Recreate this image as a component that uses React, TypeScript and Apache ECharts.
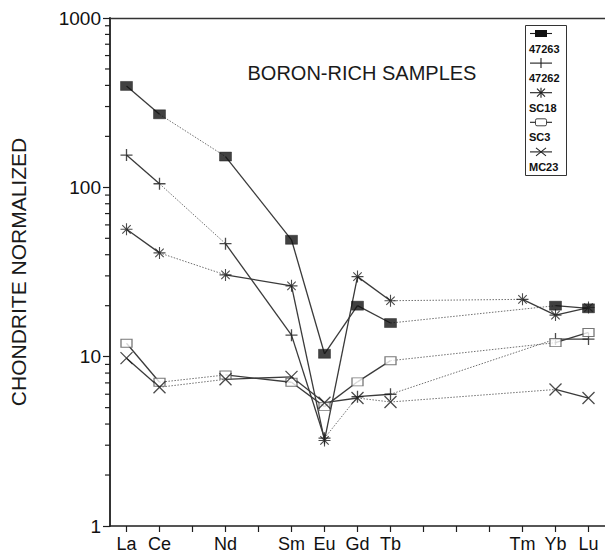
import { useEffect, useRef } from "react";
import * as echarts from "echarts";

const FONT = "'Liberation Sans', Arial, Helvetica, sans-serif";

// x axis: rare-earth elements in atomic-number order (57..71)
const elements = ["La", "Ce", "Pr", "Nd", "Pm", "Sm", "Eu", "Gd", "Tb", "Dy", "Ho", "Er", "Tm", "Yb", "Lu"];
const labeledElements = ["La", "Ce", "Nd", "Sm", "Eu", "Gd", "Tb", "Tm", "Yb", "Lu"];

// y axis
const yMin = 1;
const yMax = 1000;
const minorTickValues = [2, 3, 4, 5, 6, 7, 8, 9, 20, 30, 40, 50, 60, 70, 80, 90, 200, 300, 400, 500, 600, 700, 800, 900];

// samples
const sampleNames = ["47263", "47262", "SC18", "SC3", "MC23"];

const s47263Elements = ["La", "Ce", "Nd", "Sm", "Eu", "Gd", "Tb", "Yb", "Lu"];
const s47263Values = [397, 270, 152, 49, 10.4, 20, 15.8, 20, 19.3];

const s47262Elements = ["La", "Ce", "Nd", "Sm", "Eu", "Gd", "Tb", "Yb", "Lu"];
const s47262Values = [155, 105, 46.5, 13.4, 3.3, 5.8, 6.0, 12.7, 12.7];

const sSC18Elements = ["La", "Ce", "Nd", "Sm", "Eu", "Gd", "Tb", "Tm", "Yb", "Lu"];
const sSC18Values = [56.5, 41, 30.4, 26.2, 3.2, 29.7, 21.4, 21.8, 17.6, 19.5];

const sSC3Elements = ["La", "Ce", "Nd", "Sm", "Eu", "Gd", "Tb", "Yb", "Lu"];
const sSC3Values = [12.0, 7.06, 7.8, 7.06, 5.07, 7.1, 9.47, 12.1, 13.9];

const sMC23Elements = ["La", "Ce", "Nd", "Sm", "Eu", "Gd", "Tb", "Yb", "Lu"];
const sMC23Values = [9.8, 6.6, 7.35, 7.6, 5.35, 5.7, 5.4, 6.4, 5.7];

// segments drawn dotted (from-to)
const dottedCommon = ["Ce-Nd", "Tb-Yb", "Tb-Tm"];
const dotted47262 = ["Eu-Gd"];
const dottedMC23 = ["Gd-Tb"];

const samples = [
  { name: sampleNames[0], els: s47263Elements, vals: s47263Values, dotted: dottedCommon, kind: "fsquare" },
  { name: sampleNames[1], els: s47262Elements, vals: s47262Values, dotted: dottedCommon.concat(dotted47262), kind: "plus" },
  { name: sampleNames[2], els: sSC18Elements, vals: sSC18Values, dotted: dottedCommon, kind: "star" },
  { name: sampleNames[3], els: sSC3Elements, vals: sSC3Values, dotted: dottedCommon, kind: "osquare" },
  { name: sampleNames[4], els: sMC23Elements, vals: sMC23Values, dotted: dottedCommon.concat(dottedMC23), kind: "cross" },
];

const INK = "#1e1e1e";
const LINE = "#3a3a3a";
const DOT = "#707070";

const symbolFor: Record<string, any> = {
  fsquare: { symbol: "rect", symbolSize: [12, 9], itemStyle: { color: "#111", borderColor: "#111", borderWidth: 0.5 } },
  plus: { symbol: "path://M0,5L10,5M5,0L5,10", symbolSize: 12, itemStyle: { color: "transparent", borderColor: INK, borderWidth: 1.3 } },
  star: { symbol: "path://M0,5L10,5M5,0L5,10M1.5,1.5L8.5,8.5M8.5,1.5L1.5,8.5", symbolSize: 12, itemStyle: { color: "transparent", borderColor: INK, borderWidth: 1.1 } },
  osquare: { symbol: "rect", symbolSize: [11, 8], itemStyle: { color: "#fff", borderColor: "#555", borderWidth: 1.1 } },
  cross: { symbol: "path://M0,0L10,10M10,0L0,10", symbolSize: 12, itemStyle: { color: "transparent", borderColor: INK, borderWidth: 1.3 } },
};

function legendSymbol(kind: string, cx: number, cy: number): any[] {
  const st = { stroke: INK, lineWidth: 1.1, fill: "none" };
  const L = (x1: number, y1: number, x2: number, y2: number) => ({ type: "line", shape: { x1, y1, x2, y2 }, style: st });
  const out: any[] = [L(cx - 11, cy, cx + 11, cy)];
  if (kind === "fsquare") out.push({ type: "rect", shape: { x: cx - 6, y: cy - 3.5, width: 12, height: 7 }, style: { fill: "#111" } });
  if (kind === "plus") out.push(L(cx, cy - 5, cx, cy + 5));
  if (kind === "star") {
    out.push(L(cx, cy - 5, cx, cy + 5), L(cx - 4, cy - 4, cx + 4, cy + 4), L(cx + 4, cy - 4, cx - 4, cy + 4));
  }
  if (kind === "osquare") out.push({ type: "rect", shape: { x: cx - 5.5, y: cy - 3.5, width: 11, height: 7, r: 1.5 }, style: { fill: "#fff", stroke: "#444", lineWidth: 1 } });
  if (kind === "cross") out.push(L(cx - 5, cy - 4, cx + 5, cy + 4), L(cx + 5, cy - 4, cx - 5, cy + 4));
  return out;
}

export default function App() {
  const ref = useRef<HTMLDivElement>(null);
  useEffect(() => {
    if (!ref.current) return;
    const chart = echarts.init(ref.current, undefined, { renderer: "svg" });

    const series: any[] = [];
    samples.forEach((s) => {
      for (let i = 0; i < s.els.length - 1; i++) {
        const key = s.els[i] + "-" + s.els[i + 1];
        const isDot = s.dotted.includes(key);
        series.push({
          type: "line",
          silent: true,
          showSymbol: false,
          z: isDot ? 2 : 3,
          data: [
            [s.els[i], s.vals[i]],
            [s.els[i + 1], s.vals[i + 1]],
          ],
          lineStyle: isDot
            ? { color: DOT, width: 1, type: [1.5, 1.5] }
            : { color: LINE, width: 1.3, type: "solid" },
        });
      }
      series.push({
        type: "scatter",
        name: s.name,
        silent: true,
        z: 5,
        data: s.els.map((e, i) => [e, s.vals[i]]),
        ...symbolFor[s.kind],
      });
    });

    // minor ticks of the log axis
    series.push({
      type: "custom",
      silent: true,
      clip: false,
      z: 6,
      data: minorTickValues.map((v) => [0, v]),
      renderItem: (params: any, api: any) => {
        const y = api.coord([api.value(0), api.value(1)])[1];
        const x0 = params.coordSys.x;
        return {
          type: "line",
          shape: { x1: x0 - 5, y1: y, x2: x0, y2: y },
          style: { stroke: INK, lineWidth: 1.2 },
        };
      },
    });

    const legendChildren: any[] = [
      { type: "rect", shape: { x: 525.5, y: 25.5, width: 41, height: 150 }, style: { fill: "#fff", stroke: "#333", lineWidth: 1 } },
    ];
    samples.forEach((s, i) => {
      const cy = 33.5 + i * 29.6;
      legendChildren.push(...legendSymbol(s.kind, 541, cy));
      legendChildren.push({
        type: "text",
        x: 529,
        y: cy + 15,
        style: { text: s.name, font: `bold 11px ${FONT}`, fill: "#111", textVerticalAlign: "middle", textAlign: "left" },
      });
    });

    chart.setOption({
      animation: false,
      backgroundColor: "#fff",
      grid: { left: 102, right: 0, top: 18, bottom: 29, containLabel: false },
      xAxis: [
        {
          type: "category",
          data: elements,
          boundaryGap: true,
          axisLine: { show: true, lineStyle: { color: INK, width: 1.5 } },
          axisTick: { show: true, alignWithLabel: true, interval: 0, length: 6, lineStyle: { color: INK, width: 1.2 } },
          axisLabel: {
            interval: 0,
            margin: 9,
            fontSize: 18,
            fontFamily: FONT,
            color: "#111",
            formatter: (v: string) => (labeledElements.includes(v) ? v : ""),
          },
          splitLine: { show: false },
        },
        {
          type: "category",
          data: elements,
          position: "top",
          axisLine: { show: true, lineStyle: { color: "#333", width: 1.3 } },
          axisTick: { show: false },
          axisLabel: { show: false },
          splitLine: { show: false },
        },
      ],
      yAxis: {
        type: "log",
        logBase: 10,
        min: yMin,
        max: yMax,
        name: "CHONDRITE NORMALIZED",
        nameLocation: "middle",
        nameRotate: 90,
        nameGap: 81,
        nameTextStyle: { fontSize: 21, fontFamily: FONT, color: "#1a1a1a" },
        axisLine: { show: true, lineStyle: { color: INK, width: 1.8 } },
        axisTick: { show: true, length: 7, lineStyle: { color: INK, width: 1.2 } },
        axisLabel: {
          margin: 9,
          fontSize: 19,
          fontFamily: FONT,
          color: "#111",
          formatter: (v: number) => String(Math.round(v)),
        },
        splitLine: { show: false },
        minorTick: { show: false },
      },
      graphic: [
        {
          type: "text",
          x: 362,
          y: 73,
          style: { text: "BORON-RICH SAMPLES", font: `20px ${FONT}`, fill: "#1a1a1a", textAlign: "center", textVerticalAlign: "middle" },
        },
        { type: "group", children: legendChildren },
      ],
      series,
    });
    return () => chart.dispose();
  }, []);
  return <div ref={ref} style={{ position: "fixed", left: 0, top: 0, width: 605, height: 555, background: "#fff" }} />;
}
